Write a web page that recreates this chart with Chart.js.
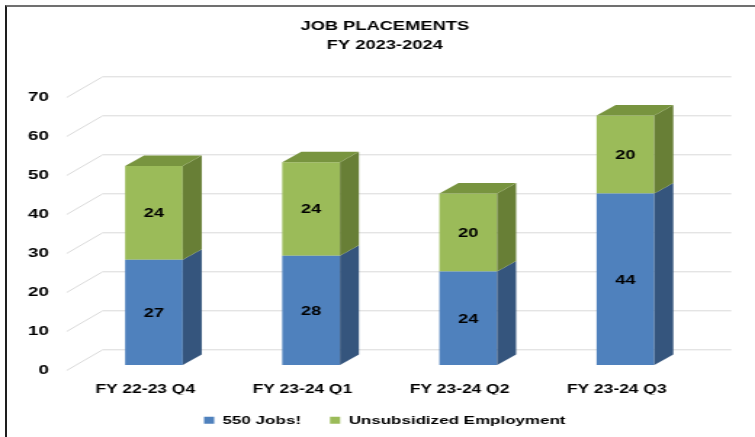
<!DOCTYPE html>
<html>
<head>
<meta charset="utf-8">
<script src="https://cdn.jsdelivr.net/npm/chart.js@4/dist/chart.umd.min.js"></script>
<style>
  html, body { margin: 0; padding: 0; background: #fff; overflow: hidden; }
  #wrap {
    position: absolute; left: 0; top: 0;
    width: 520px; height: 437px;
    transform: scaleX(1.45192); transform-origin: 0 0;
  }
  #frame {
    position: absolute; left: 5px; top: 5px;
    width: 800px; height: 500px;
    border-top: 2px solid #707070; border-left: 2px solid #1e1e1e;
    pointer-events: none;
  }
</style>
</head>
<body>
<div id="wrap"><canvas id="chart"></canvas></div>
<div id="frame"></div>
<script>
// data
const categories = ['FY 22-23 Q4', 'FY 23-24 Q1', 'FY 23-24 Q2', 'FY 23-24 Q3'];
const jobs550 = [27, 28, 24, 44];
const unsubsidized = [24, 24, 20, 20];
const seriesNames = ['550 Jobs!', 'Unsubsidized Employment'];

// the picture is stretched sideways, so the canvas is drawn narrow and widened by css
const S = 755 / 520;
const FONT = "'Liberation Sans', Arial, sans-serif";

// 3D look: bar depth, back wall depth, and where the bars sit inside the floor
const depth = {
  barDx: 19 / S, barDy: -10.5,
  wallDx: 36 / S, wallDy: -20.7,
  shiftX: 8.7 / S, shiftY: -5
};

const sideColors = ['#35557d', '#687f36'];
const topColors = ['#3f6696', '#78943f'];

const threeD = {
  id: 'threeD',
  beforeDatasetsDraw(chart) {
    const { ctx, chartArea: a, scales: { y } } = chart;
    ctx.save();
    ctx.strokeStyle = '#d9d9d9';
    ctx.lineWidth = 1;
    y.ticks.forEach(t => {
      const py = Math.round(y.getPixelForValue(t.value)) + 0.5;
      ctx.beginPath();
      ctx.moveTo(a.left, py);
      ctx.lineTo(a.left + depth.wallDx, py + depth.wallDy);
      ctx.lineTo(a.right + depth.wallDx, py + depth.wallDy);
      ctx.stroke();
    });
    ctx.restore();
    // bars stand a little back from the front edge of the floor
    ctx.save();
    ctx.translate(depth.shiftX, depth.shiftY);
  },
  afterDatasetsDraw(chart) {
    const ctx = chart.ctx;
    const last = chart.data.datasets.length - 1;
    const dx = depth.barDx, dy = depth.barDy;
    chart.data.datasets.forEach((ds, di) => {
      const meta = chart.getDatasetMeta(di);
      meta.data.forEach(bar => {
        const { x, y, base, width } = bar.getProps(['x', 'y', 'base', 'width'], true);
        const l = x - width / 2, r = x + width / 2;
        ctx.fillStyle = sideColors[di];
        ctx.beginPath();
        ctx.moveTo(r, y);
        ctx.lineTo(r + dx, y + dy);
        ctx.lineTo(r + dx, base + dy);
        ctx.lineTo(r, base);
        ctx.closePath();
        ctx.fill();
        if (di === last) {
          ctx.fillStyle = topColors[di];
          ctx.beginPath();
          ctx.moveTo(l, y);
          ctx.lineTo(l + dx, y + dy);
          ctx.lineTo(r + dx, y + dy);
          ctx.lineTo(r, y);
          ctx.closePath();
          ctx.fill();
        }
      });
    });
    // value labels in the middle of each segment
    ctx.fillStyle = '#000';
    ctx.font = 'bold 12.5px ' + FONT;
    ctx.textAlign = 'center';
    ctx.textBaseline = 'middle';
    chart.data.datasets.forEach((ds, di) => {
      chart.getDatasetMeta(di).data.forEach((bar, i) => {
        const { x, y, base } = bar.getProps(['x', 'y', 'base'], true);
        ctx.fillText(String(ds.data[i]), x, (y + base) / 2 + 1);
      });
    });
    ctx.restore();
  }
};

new Chart(document.getElementById('chart'), {
  type: 'bar',
  data: {
    labels: categories,
    datasets: [
      { label: seriesNames[0], data: jobs550, backgroundColor: '#4f81bd',
        barPercentage: 0.367, categoryPercentage: 1 },
      { label: seriesNames[1], data: unsubsidized, backgroundColor: '#9bbb59',
        barPercentage: 0.367, categoryPercentage: 1 }
    ]
  },
  options: {
    responsive: true,
    maintainAspectRatio: false,
    animation: false,
    layout: { padding: { left: 10, right: 0, top: 0, bottom: 0.8 } },
    plugins: {
      tooltip: { enabled: false },
      title: {
        display: true,
        text: ['JOB PLACEMENTS', 'FY 2023-2024'],
        color: '#000',
        font: { family: FONT, size: 12.6, weight: 'bold', lineHeight: 1.53 },
        padding: { top: 17, bottom: 41.44 }
      },
      legend: {
        position: 'bottom',
        labels: {
          color: '#000',
          font: { family: FONT, size: 11.7, weight: 'bold' },
          boxWidth: 7,
          boxHeight: 7,
          padding: 20
        }
      }
    },
    scales: {
      x: {
        stacked: true,
        grid: { display: false, drawTicks: false },
        border: { display: false },
        ticks: { color: '#000', padding: 12.8, font: { family: FONT, size: 12, weight: 'bold' } },
        afterFit: s => { s.height = 24.5; }
      },
      y: {
        stacked: true,
        min: 0,
        max: 70,
        grid: { display: false, drawTicks: false },
        border: { display: false },
        ticks: { stepSize: 10, color: '#000', padding: 12.2, font: { family: FONT, size: 13, weight: 'bold' } },
        afterFit: s => { s.width = 35.87; }
      },
      yRight: {
        type: 'linear',
        position: 'right',
        display: true,
        grid: { display: false, drawTicks: false },
        border: { display: false },
        ticks: { display: false },
        afterFit: s => { s.width = 41.1; }
      }
    }
  },
  plugins: [threeD]
});
</script>
</body>
</html>
